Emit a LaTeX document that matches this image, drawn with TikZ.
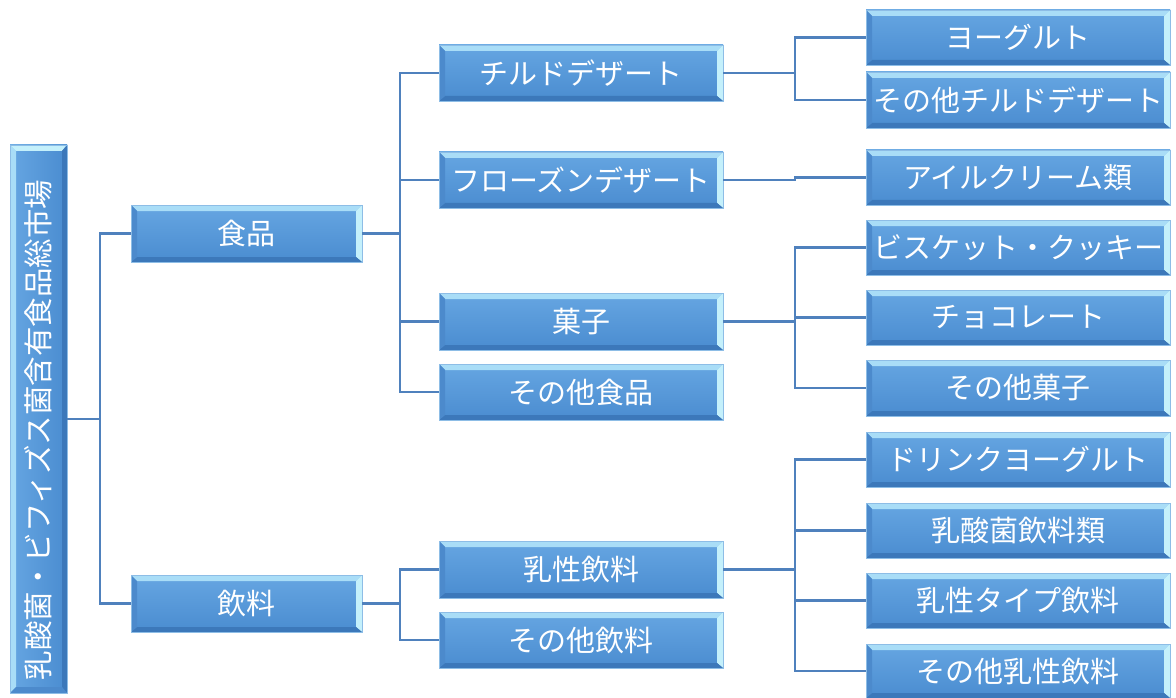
\documentclass[tikz,border=0pt]{standalone}
\usepackage{fontspec}
\newfontfamily\jp{Noto Sans CJK JP}
\definecolor{bodytop}{HTML}{66A6E2}
\definecolor{bodybot}{HTML}{4A8CD0}
\definecolor{bevtop}{HTML}{A9DDF7}
\definecolor{bevright}{HTML}{C4F0FB}
\definecolor{bevbot}{HTML}{3C78BA}
\definecolor{bevleft}{HTML}{4C8ACC}
\definecolor{boxedge}{HTML}{8DBDE6}
\definecolor{conncol}{HTML}{4F81BD}
\tikzset{
  boxtext/.style={text=white, inner sep=0pt, font=\jp\fontsize{29}{32}\selectfont},
  conn/.style={draw=conncol, line width=2.3pt},
}
% \myBevBox{name}{cx}{cy}{w}{h}{text}
\newcommand{\myBevBox}[6]{%
  \pgfmathsetmacro{\xa}{#2-#4/2}\pgfmathsetmacro{\xb}{#2+#4/2}%
  \pgfmathsetmacro{\ya}{#3-#5/2}\pgfmathsetmacro{\yb}{#3+#5/2}%
  \shade[top color=bodytop,bottom color=bodybot] (\xa,\ya) rectangle (\xb,\yb);
  \fill[bevtop] (\xa,\ya) -- (\xb,\ya) -- (\xb-6,\ya+6) -- (\xa+6,\ya+6) -- cycle;
  \fill[bevright] (\xb,\ya) -- (\xb,\yb) -- (\xb-6,\yb-5) -- (\xb-6,\ya+6) -- cycle;
  \fill[bevbot] (\xa,\yb) -- (\xb,\yb) -- (\xb-6,\yb-5) -- (\xa+6,\yb-5) -- cycle;
  \fill[bevleft] (\xa,\ya) -- (\xa+6,\ya+6) -- (\xa+6,\yb-5) -- (\xa,\yb) -- cycle;
  \draw[boxedge, line width=0.5pt] (\xa,\ya) rectangle (\xb,\yb);
  \node[boxtext, minimum width=#4pt, minimum height=#5pt] (#1) at (#2,#3) {#6};
}
% vertical root box: light on left and top
\newcommand{\myVertBevBox}[6]{%
  \pgfmathsetmacro{\xa}{#2-#4/2}\pgfmathsetmacro{\xb}{#2+#4/2}%
  \pgfmathsetmacro{\ya}{#3-#5/2}\pgfmathsetmacro{\yb}{#3+#5/2}%
  \shade[left color=bodytop,right color=bodybot] (\xa,\ya) rectangle (\xb,\yb);
  \fill[bevtop] (\xa,\ya) -- (\xa,\yb) -- (\xa+6,\yb-6) -- (\xa+6,\ya+6) -- cycle;
  \fill[bevright] (\xa,\ya) -- (\xb,\ya) -- (\xb-5,\ya+6) -- (\xa+6,\ya+6) -- cycle;
  \fill[bevbot] (\xb,\ya) -- (\xb,\yb) -- (\xb-5,\yb-6) -- (\xb-5,\ya+6) -- cycle;
  \fill[bevleft] (\xa,\yb) -- (\xb,\yb) -- (\xb-5,\yb-6) -- (\xa+6,\yb-6) -- cycle;
  \draw[boxedge, line width=0.5pt] (\xa,\ya) rectangle (\xb,\yb);
  \node[boxtext, minimum width=#4pt, minimum height=#5pt] (#1) at (#2,#3) {\rotatebox{90}{#6\hspace*{22pt}}};
}
\begin{document}
\begin{tikzpicture}[x=1pt,y=-1pt]
\useasboundingbox (0,0) rectangle (1176,698);
\fill[white] (0,0) rectangle (1176,698);
% junction x positions
\coordinate (j0) at (100,0);
\coordinate (j1) at (400,0);
\coordinate (j2) at (795,0);
% root
\begingroup
\tikzset{boxtext/.append style={font=\jp\fontsize{29.5}{32}\selectfont}}
\myVertBevBox{root}{38.5}{419}{57}{548}{乳酸菌・ビフィズス菌含有食品総市場}
\endgroup
% level 1
\myBevBox{food}{246.5}{233.5}{231}{57}{食品}
\myBevBox{drink}{246.5}{603.5}{231}{57}{飲料}
% level 2
\myBevBox{chilled}{581}{73}{284}{56}{チルドデザート}
\myBevBox{frozen}{581}{180}{284}{56}{フローズンデザート}
\myBevBox{sweets}{581}{321.5}{284}{57}{菓子}
\myBevBox{otherfood}{581}{392}{284}{56}{その他食品}
\myBevBox{milkdrink}{581}{569.5}{284}{57}{乳性飲料}
\myBevBox{otherdrink}{581}{640}{284}{56}{その他飲料}
% level 3
\myBevBox{yog}{1018}{37.5}{304}{55}{ヨーグルト}
\myBevBox{otherchill}{1018}{100}{304}{56}{その他チルドデザート}
\myBevBox{ice}{1018}{177.5}{304}{55}{アイルクリーム類}
\myBevBox{bisc}{1018}{247.5}{304}{55}{ビスケット・クッキー}
\myBevBox{choc}{1018}{317.5}{304}{55}{チョコレート}
\myBevBox{othersw}{1018}{388}{304}{56}{その他菓子}
\myBevBox{dyog}{1018}{459.5}{304}{55}{ドリンクヨーグルト}
\myBevBox{lacto}{1018}{530.5}{304}{55}{乳酸菌飲料類}
\myBevBox{milktype}{1018}{600.5}{304}{55}{乳性タイプ飲料}
\myBevBox{othermilk}{1018}{671}{304}{54}{その他乳性飲料}
% connectors: root
\draw[conn] (root.east) -- (root.east -| j0);
\draw[conn] (food.west) -| (j0 |- drink.west) -- (drink.west);
% food
\draw[conn] (food.east) -- (food.east -| j1);
\draw[conn] (chilled.west) -| (j1 |- otherfood.west) -- (otherfood.west);
\draw[conn] (frozen.west) -- (frozen.west -| j1);
\draw[conn] (sweets.west) -- (sweets.west -| j1);
% drink
\draw[conn] (drink.east) -- (drink.east -| j1);
\draw[conn] (milkdrink.west) -| (j1 |- otherdrink.west) -- (otherdrink.west);
% chilled
\draw[conn] (chilled.east) -- (chilled.east -| j2);
\draw[conn] (yog.west) -| (j2 |- otherchill.west) -- (otherchill.west);
% frozen
\draw[conn] (frozen.east) -- (frozen.east -| j2) |- (ice.west);
% sweets
\draw[conn] (sweets.east) -- (sweets.east -| j2);
\draw[conn] (bisc.west) -| (j2 |- othersw.west) -- (othersw.west);
\draw[conn] (choc.west) -- (choc.west -| j2);
% milk drinks
\draw[conn] (milkdrink.east) -- (milkdrink.east -| j2);
\draw[conn] (dyog.west) -| (j2 |- othermilk.west) -- (othermilk.west);
\draw[conn] (lacto.west) -- (lacto.west -| j2);
\draw[conn] (milktype.west) -- (milktype.west -| j2);
\end{tikzpicture}
\end{document}
